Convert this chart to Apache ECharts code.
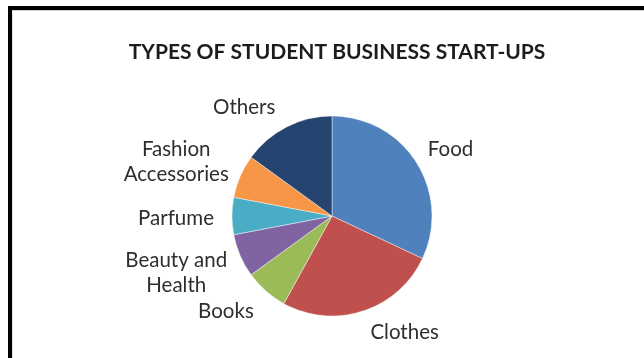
<!DOCTYPE html>
<html>
<head>
<meta charset="utf-8">
<title>Types of Student Business Start-ups</title>
<script src="https://cdn.jsdelivr.net/npm/echarts@6/dist/echarts.min.js"></script>
<style>
  html, body { margin: 0; padding: 0; background: #fff; }
  #chart { width: 644px; height: 358px; }
  #frame {
    position: absolute; left: 8px; top: 6px; width: 640px; height: 360px;
    border-top: 4px solid #000; border-left: 4px solid #000;
    pointer-events: none;
  }
  #frame::after {
    content: ''; position: absolute; left: 0; top: 0; right: 0; bottom: 0;
    border-top: 1px solid #cfcfcf; border-left: 1px solid #e4e4e4;
  }
</style>
</head>
<body>
<div id="chart"></div>
<div id="frame"></div>
<script>
// Chart text and data
const chartTitle = 'TYPES OF STUDENT BUSINESS START-UPS';
const categories = ['Food', 'Clothes', 'Books', 'Beauty and\nHealth', 'Parfume', 'Fashion\nAccessories', 'Others'];
const shares = [32, 26, 7, 7, 6, 7, 15];

// Slice colours, one per category
const sliceColors = ['#4F81BD', '#C0504D', '#9BBB59', '#8064A2', '#4BACC6', '#F79646', '#264470'];

// Fine placement of each label, relative to the default outside anchor
const labelShift = [[24, -7], [38, 10], [-32, 11], [-53, 12], [-44, 2], [-53, -10], [-37, -9]];

const chart = echarts.init(document.getElementById('chart'), null, { renderer: 'canvas' });

chart.setOption({
  animation: false,
  backgroundColor: '#ffffff',
  title: {
    text: chartTitle,
    left: 337,
    top: 39,
    textAlign: 'center',
    padding: 0,
    textStyle: {
      fontFamily: 'Lato',
      fontWeight: 'bold',
      fontSize: 21,
      lineHeight: 26,
      color: '#1c1c1c'
    }
  },
  series: [{
    type: 'pie',
    center: [332, 216],
    radius: 100,
    startAngle: 90,
    clockwise: true,
    avoidLabelOverlap: false,
    emphasis: { disabled: true },
    itemStyle: { borderColor: 'rgba(255,255,255,0.55)', borderWidth: 0.8 },
    label: {
      show: true,
      position: 'outside',
      fontFamily: 'Lato',
      fontSize: 20.5,
      lineHeight: 25,
      color: '#2e2e2e',
      distanceToLabelLine: 0
    },
    labelLine: { show: false, length: 12, length2: 0 },
    labelLayout: function (p) {
      const s = labelShift[p.dataIndex];
      return { align: 'center', verticalAlign: 'middle', dx: s[0], dy: s[1] };
    },
    data: categories.map((name, i) => ({
      name: name,
      value: shares[i],
      itemStyle: { color: sliceColors[i] }
    }))
  }]
});
</script>
</body>
</html>
